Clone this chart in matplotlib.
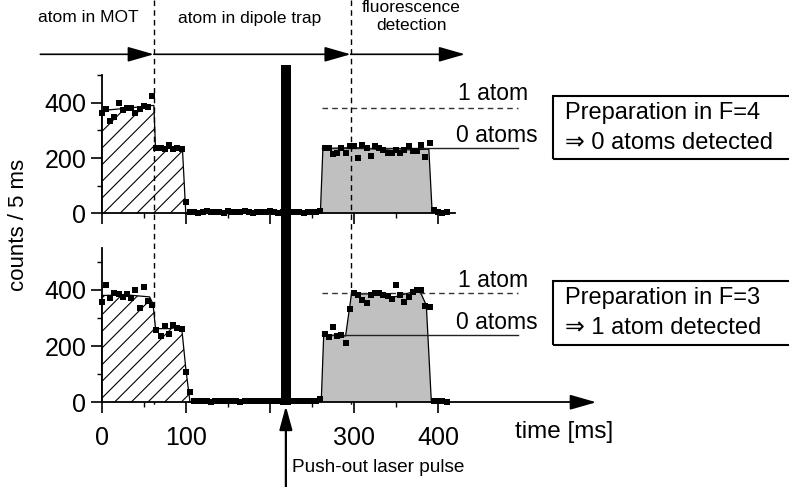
import numpy as np
import matplotlib
matplotlib.use("Agg")
import matplotlib.pyplot as plt
from matplotlib.patches import Rectangle
from matplotlib.transforms import blended_transform_factory

plt.rcParams['font.family'] = ['Liberation Sans', 'DejaVu Sans']
plt.rcParams['hatch.linewidth'] = 0.8

# time axis: one count bin every 5 ms
t = np.arange(0, 415, 5)

# preparation in F=4 -> 0 atoms detected
counts_f4 = [364, 376, 334, 349, 400, 373, 380, 382, 364, 376, 388, 385, 424,
             238, 236, 232, 246, 234, 238, 232,
             42,
             4, 6, 3, 5, 7, 4, 6, 5, 3, 8, 5, 4, 6, 7, 5, 3, 6, 4, 5, 7, 4, 3,
             6, 5, 4, 6, 5, 3, 4, 6, 5,
             10,
             236, 236, 214, 220, 235, 220, 242, 245, 200, 248, 237, 207, 244,
             237, 228, 220, 220, 228, 220, 228, 242, 226, 226, 248, 204, 253,
             12, 4, 3, 5]

# preparation in F=3 -> 1 atom detected
counts_f3 = [358, 418, 372, 390, 384, 376, 384, 372, 398, 334, 410, 362, 346,
             257, 236, 271, 243, 274, 265, 259,
             109, 38,
             3, 5, 4, 6, 2, 5, 4, 3, 6, 5, 4, 2, 5, 6, 3, 4, 5, 3, 6, 4, 5, 2,
             4, 6, 3, 5, 4, 3, 5, 4,
             12,
             243, 233, 267, 236, 240, 212, 332, 390, 382, 364, 354, 382, 388,
             388, 382, 378, 366, 417, 382, 358, 376, 394, 400, 400, 343, 338,
             5, 3, 4, 2]

# smoothed envelopes
f4_mot_t = [0, 0, 30, 60, 62, 64, 96, 100]
f4_mot_y = [0, 372, 380, 390, 390, 236, 234, 0]
f4_flu_t = [260, 263, 300, 345, 389, 393]
f4_flu_y = [0, 234, 238, 228, 232, 0]

f3_mot_t = [0, 0, 30, 57, 61, 64, 80, 95, 100, 105]
f3_mot_y = [0, 380, 382, 375, 350, 262, 262, 268, 120, 0]
f3_flu_t = [261, 264, 290, 297, 320, 345, 360, 378, 386, 392]
f3_flu_y = [0, 240, 236, 385, 386, 372, 385, 398, 345, 0]

one_atom = [382, 388]
zero_atoms = [235, 240]
level_range = (262, 495)

phase_edges = [62, 296]
pulse_t = 219
pulse_w = 12

xticks = [0, 100, 200, 300, 400]
xticklabels = ['0', '100', '', '300', '400']
minor_x = [50, 150, 250, 350]

W, H = 789, 487
fig = plt.figure(figsize=(W / 100, H / 100), dpi=100)


def fy(py):
    return 1 - py / H


sc = 0.841  # px per ms
left = (101.7 - 20 * sc) / W
width = 620 * sc / W
ax_top = fig.add_axes([left, fy(224.4), width, 165.9 / H])
ax_bot = fig.add_axes([left, fy(413.5), width, 168.6 / H])

panels = [
    (ax_top, counts_f4, f4_mot_t, f4_mot_y, f4_flu_t, f4_flu_y, 500, 420),
    (ax_bot, counts_f3, f3_mot_t, f3_mot_y, f3_flu_t, f3_flu_y, 550, 575),
]

for i, (ax, cnt, mt, my, ft, fyy, ytop, xend) in enumerate(panels):
    ax.set_facecolor('none')
    ax.set_xlim(-20, 600)
    ax.set_ylim(-40, 560)
    ax.fill_between(mt, my, facecolor='white', hatch='//', edgecolor='black',
                    linewidth=0, zorder=1)
    ax.plot(mt, my, color='black', lw=0.9, zorder=2)
    ax.fill_between(ft, fyy, facecolor='#c0c0c0', linewidth=0, zorder=1)
    ax.plot(ft, fyy, color='black', lw=0.9, zorder=2)
    ax.plot(level_range, [one_atom[i]] * 2, color='#333333', lw=1.0,
            ls=(0, (4, 3)), zorder=3, clip_on=False)
    ax.plot(level_range, [zero_atoms[i]] * 2, color='#222222', lw=1.0,
            zorder=3, clip_on=False)
    ax.plot(t, cnt, 's', ms=5.0, color='black', mew=0, zorder=4)

    ax.text(465, 435, '1 atom', fontsize=16.5, ha='center', va='center')
    ax.text(470, 283, '0 atoms', fontsize=16.5, ha='center', va='center')

    for s in ['top', 'right']:
        ax.spines[s].set_visible(False)
    ax.spines['left'].set_position(('data', 0))
    ax.spines['bottom'].set_position(('data', 0))
    ax.spines['left'].set_bounds(0, ytop)
    ax.spines['bottom'].set_bounds(0, xend)
    ax.spines['left'].set_linewidth(1.3)
    ax.spines['bottom'].set_linewidth(1.3)

    ax.set_yticks([0, 200, 400])
    ax.set_yticks([100, 300, 500], minor=True)
    ax.set_xticks(xticks)
    ax.set_xticks(minor_x, minor=True)
    ax.tick_params(which='major', direction='out', length=8, width=1.2,
                   labelsize=18, pad=3)
    ax.tick_params(which='minor', direction='out', length=3.5, width=1.0)
    if i == 0:
        ax.tick_params(axis='x', labelbottom=False)
    else:
        ax.set_xticklabels(xticklabels)
        ax.tick_params(axis='x', pad=9)

# x axis arrow on the lower panel
ax_bot.annotate('', xy=(588, 0), xytext=(560, 0), xycoords='data',
                arrowprops=dict(arrowstyle='-|>,head_length=1.15,head_width=0.33',
                                mutation_scale=14, lw=1.3, color='black',
                                shrinkA=0, shrinkB=0), annotation_clip=False)
ax_bot.text(550, -106, 'time [ms]', fontsize=17.5, ha='center', va='center',
            clip_on=False)

bt = blended_transform_factory(ax_top.transData, fig.transFigure)

# phase boundaries
for x in phase_edges:
    ax_top.plot([x, x], [1.0, fy(405)], transform=bt, color='black', lw=1.0,
                ls=(0, (4, 3)), clip_on=False, zorder=5)

# phase arrows on top
arr_y = fy(54.3)
for x0, x1 in [(-73, phase_edges[0]), (phase_edges[0], phase_edges[1]),
               (phase_edges[1], 432)]:
    ax_top.annotate('', xy=(x1, arr_y), xytext=(x0, arr_y),
                    xycoords=('data', 'figure fraction'),
                    textcoords=('data', 'figure fraction'),
                    arrowprops=dict(arrowstyle='-|>,head_length=1.15,head_width=0.33',
                                    mutation_scale=14, lw=1.2, color='black',
                                    shrinkA=0, shrinkB=0),
                    annotation_clip=False)

ax_top.text(-16, fy(18), 'atom in MOT', transform=bt, fontsize=12.5,
            ha='center', va='center')
ax_top.text(176, fy(18), 'atom in dipole trap', transform=bt, fontsize=12.5,
            ha='center', va='center')
ax_top.text(368, fy(17), 'fluorescence\ndetection', transform=bt,
            fontsize=12.5, ha='center', va='center', linespacing=1.25)

# push-out laser pulse
fig.add_artist(Rectangle((pulse_t - pulse_w / 2, fy(405)), pulse_w,
                         fy(65) - fy(405), transform=bt, facecolor='black',
                         edgecolor='none', zorder=6))
ax_top.annotate('', xy=(pulse_t, fy(406)), xytext=(pulse_t, fy(487)),
                xycoords=('data', 'figure fraction'),
                textcoords=('data', 'figure fraction'),
                arrowprops=dict(arrowstyle='-|>,head_length=1.1,head_width=0.3',
                                mutation_scale=13, lw=1.6, color='black',
                                shrinkA=0, shrinkB=0),
                annotation_clip=False)
ax_top.text(226, fy(468), 'Push-out laser pulse', transform=bt, fontsize=13.7,
            ha='left', va='center')

fig.text(19 / W, fy(225), 'counts / 5 ms', rotation=90, fontsize=16,
         ha='center', va='center')

# boxes on the right
boxes = [(96, 159, 'Preparation in F=4', '\u21d2 0 atoms detected'),
         (281, 345, 'Preparation in F=3', '\u21d2 1 atom detected')]
for top, bot, l1, l2 in boxes:
    fig.add_artist(Rectangle((552.7 / W, fy(bot)), 0.4, (bot - top) / H,
                             transform=fig.transFigure, fill=False,
                             edgecolor='black', lw=1.5))
    fig.text(565 / W, fy(top + 17), l1, fontsize=17, ha='left', va='center')
    fig.text(565 / W, fy(top + 47), l2, fontsize=17, ha='left', va='center')

fig.savefig('out.png', dpi=100)
